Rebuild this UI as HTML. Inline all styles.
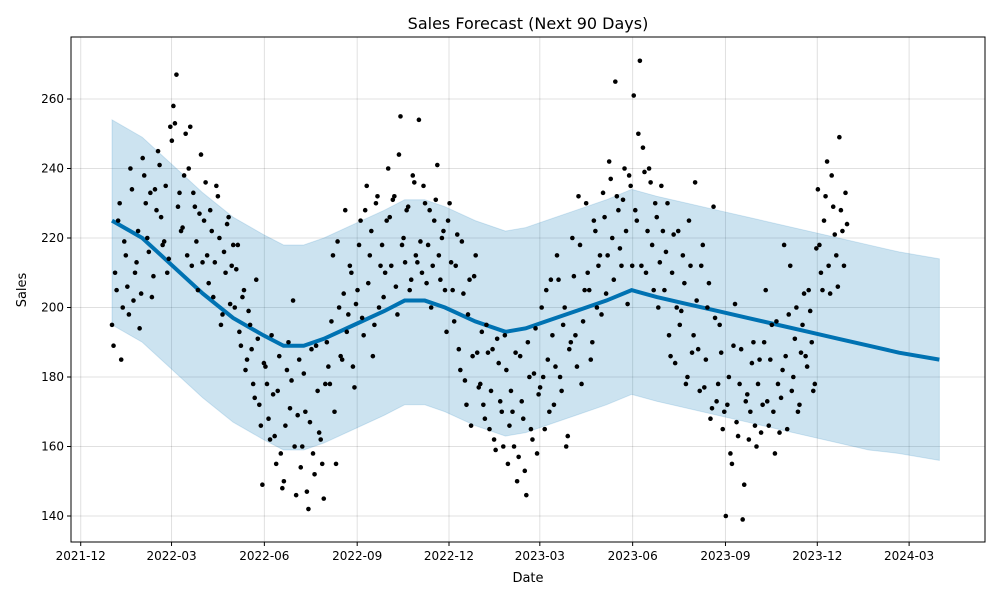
<!DOCTYPE html>
<html><head><meta charset="utf-8"><style>
body{margin:0;background:#fff;font-family:"Liberation Sans","DejaVu Sans",sans-serif}
svg text{font-family:"DejaVu Sans","Liberation Sans",sans-serif}
</style></head><body>
<svg id="chart" width="1000" height="600" xmlns="http://www.w3.org/2000/svg">
<rect width="1000" height="600" fill="#fff"/>
<text x="528" y="29" text-anchor="middle" font-size="16">Sales Forecast (Next 90 Days)</text>
<g id="grid"></g>
<g id="band"></g>
<g id="line"></g>
<g id="pts"></g>
<rect x="71" y="37" width="914" height="505" fill="none" stroke="#000" stroke-width="1"/>
<g id="axes"></g>
<text x="528" y="582" text-anchor="middle" font-size="13">Date</text>
<text transform="translate(26,290) rotate(-90)" text-anchor="middle" font-size="13">Sales</text>
</svg>
<script>
const fcDays=[0,30,60,90,120,150,170,190,210,240,270,290,310,330,360,390,410,430,460,490,515,540,570,600,630,660,690,720,750,780,820];
const fcVals=[225,220,212,204,197,192,189,189,191,195,199,202,202,200,196,193,194,196,199,202,205,203,201,199,197,195,193,191,189,187,185];
const fcUpper=[254,249,241,233,226,221,218,218,220,224,228,231,231,229,225,222,223,225,228,231,234,232,230,228,226,224,222,220,218,216,214];
const fcLower=[195,190,182,174,167,162,159,159,161,165,169,172,172,170,166,163,164,166,169,172,175,173,171,169,167,165,163,161,159,158,156];
const salesVals=[195,210,225,185,219,206,240,202,213,194,243,230,216,203,234,245,226,219,210,252,258,267,233,223,250,240,212,229,205,244,225,215,228,203,235,220,198,210,226,212,200,218,189,205,185,195,178,208,172,149,183,168,192,163,176,158,150,182,171,202,146,185,160,170,142,188,152,176,162,145,190,178,215,155,200,185,228,198,210,177,205,225,192,235,215,186,230,200,218,210,240,212,232,198,255,220,228,205,238,215,254,210,230,218,200,225,241,208,222,193,230,205,212,188,219,179,198,166,209,187,178,172,195,165,188,159,184,170,192,155,176,160,150,186,168,146,180,162,194,175,200,165,185,208,172,215,180,195,160,188,220,192,232,178,205,210,185,225,200,215,233,204,242,220,265,228,212,240,201,235,261,225,271,246,210,240,218,230,200,235,205,230,186,221,200,195,215,178,225,187,236,188,212,177,200,168,229,173,195,165,140,180,155,201,163,188,149,175,170,190,160,185,172,205,166,195,158,178,174,218,165,212,180,200,172,195,186,205,190,178,234,210,225,242,204,229,215,249,222,233];
const salesVals2=[189,205,230,200,215,198,234,210,222,204,238,220,233,209,228,241,218,235,214,248,253,229,222,238,215,252,233,219,227,213,236,207,222,213,232,195,216,224,201,218,211,193,203,182,199,188,174,191,166,184,178,162,175,155,186,148,166,190,179,160,169,154,181,147,167,158,189,164,155,178,183,196,170,219,186,204,193,212,183,201,218,197,228,207,222,195,232,212,203,225,226,231,206,244,218,213,229,208,236,213,219,235,207,228,212,231,215,220,205,225,213,196,221,182,204,172,208,186,215,177,193,168,187,176,162,191,173,160,182,166,170,187,157,173,153,190,165,181,158,177,180,205,170,192,183,208,176,200,163,190,209,183,218,196,230,205,190,222,212,198,226,215,237,208,232,217,231,222,238,212,228,250,212,239,222,236,205,226,213,222,216,192,210,184,222,199,207,180,212,192,202,176,218,185,207,171,197,178,187,170,172,158,189,167,178,139,173,162,184,166,178,164,190,173,185,170,196,164,182,186,198,176,191,170,187,204,183,199,176,217,218,205,232,212,238,221,206,228,212,224];
const xTickLabels=["2021-12","2022-03","2022-06","2022-09","2022-12","2023-03","2023-06","2023-09","2023-12","2024-03"];
const xTickDays=[-31,59,151,243,334,424,516,608,699,790];
const yTicks=[140,160,180,200,220,240,260];
const NS="http://www.w3.org/2000/svg";
const xs=d=>112+d*1.009;
const ys=v=>99+(260-v)*3.475;
function mk(tag,attrs,parent){const e=document.createElementNS(NS,tag);for(const k in attrs)e.setAttribute(k,attrs[k]);document.getElementById(parent).appendChild(e);return e;}
xTickDays.forEach((d,i)=>{
 const g=mk('line',{x1:xs(d),x2:xs(d),y1:37,y2:542,stroke:'#000','stroke-opacity':0.12},'grid');
 
 
 mk('line',{x1:xs(d),x2:xs(d),y1:542,y2:546,stroke:'#000'},'axes');
 const t=mk('text',{x:xs(d),y:560,'text-anchor':'middle','font-size':12},'axes');
 t.textContent=xTickLabels[i];
 
 
});
yTicks.forEach(v=>{
 const g=mk('line',{x1:71,x2:985,y1:ys(v),y2:ys(v),stroke:'#000','stroke-opacity':0.12},'grid');
 
 
 mk('line',{x1:67,x2:71,y1:ys(v),y2:ys(v),stroke:'#000'},'axes');
 const t=mk('text',{x:64,y:ys(v)+4,'text-anchor':'end','font-size':12},'axes');
 t.textContent=v;
 
 
});
let up=fcDays.map((d,i)=>xs(d)+','+ys(fcUpper[i]));
let lo=fcDays.map((d,i)=>xs(d)+','+ys(fcLower[i])).reverse();
const band=mk('polygon',{points:up.concat(lo).join(' '),fill:'#0072B2','fill-opacity':0.2,stroke:'#0072B2','stroke-opacity':0.15},'band');


const ln=mk('polyline',{points:fcDays.map((d,i)=>xs(d)+','+ys(fcVals[i])).join(' '),fill:'none',stroke:'#0072B2','stroke-width':4},'line');


const step=730/salesVals.length;
salesVals.forEach((v,i)=>{
 const c=mk('circle',{cx:xs(i*step),cy:ys(v),r:2.3,fill:'#000'},'pts');
 
 
});
salesVals2.forEach((v,i)=>{
 const c=mk('circle',{cx:xs((i+0.5)*step),cy:ys(v),r:2.3,fill:'#000'},'pts');
 
 
});
</script>
</body></html>
